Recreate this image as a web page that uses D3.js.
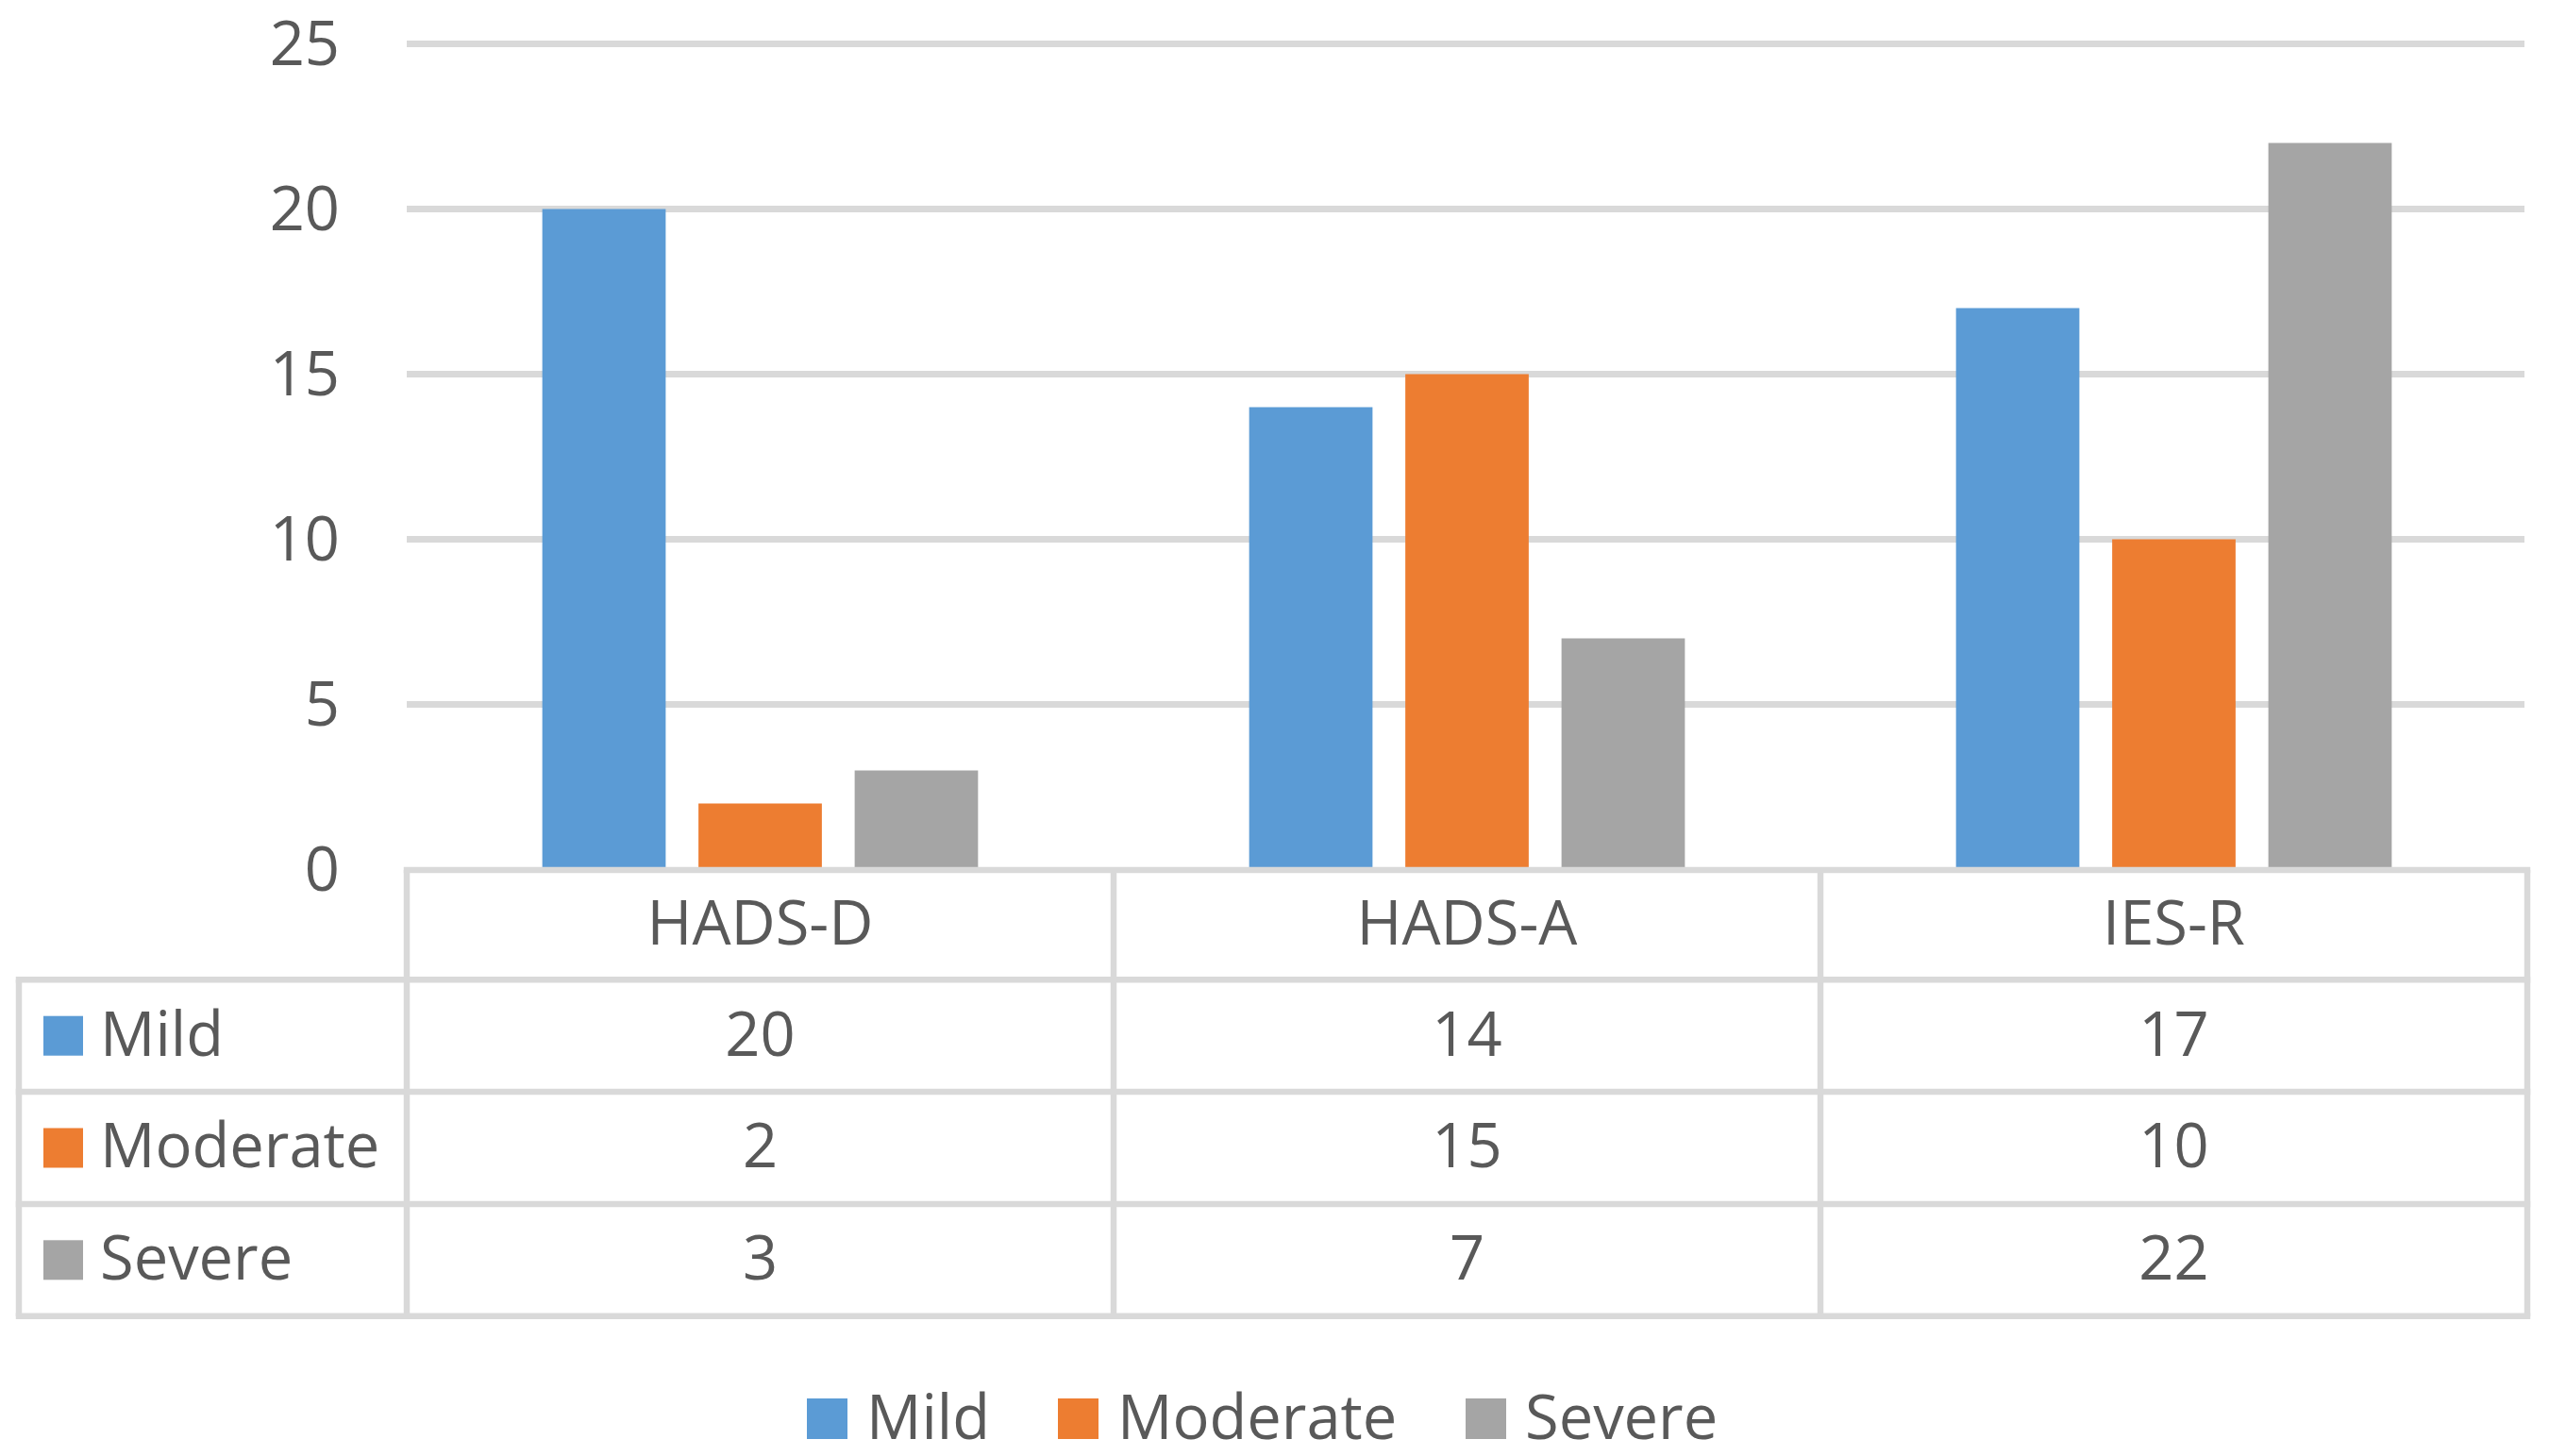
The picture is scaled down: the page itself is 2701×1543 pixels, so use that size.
<!DOCTYPE html>
<html>
<head>
<meta charset="utf-8">
<script src="https://cdn.jsdelivr.net/npm/d3@7"></script>
<style>
  body { margin: 0; background: #fff; }
  text { font-family: "Open Sans", "Noto Sans", sans-serif; fill: #595959; }
</style>
</head>
<body>
<div class="svg-frame"></div>
<script>
const categories = ["HADS-D", "HADS-A", "IES-R"]
const series = ["Mild", "Moderate", "Severe"]
const mildValues = [20, 14, 17]
const moderateValues = [2, 15, 10]
const severeValues = [3, 7, 22]
const yTicks = [0, 5, 10, 15, 20, 25]
const colors = ["#5B9BD5", "#ED7D31", "#A5A5A5"]

function drawViz() {
  const width = 2701, height = 1543
  const svg = d3.select(".svg-frame")
    .append("svg")
    .attr("width", width)
    .attr("height", height)

  const plot = { left: 431, right: 2678, top: 46.5, bottom: 921.5 }
  const table = { left: 20, rowH: 118.8, lineW: 6.5, fontSize: 65 }
  const gridColor = "#D9D9D9"

  const values = [mildValues, moderateValues, severeValues]
  const data = categories.flatMap((c, i) =>
    series.map((s, j) => ({ category: c, series: s, value: values[j][i], color: colors[j] })))

  const xScale = d3.scaleBand(categories, [plot.left, plot.right])
  const xInner = d3.scaleBand(series, [0, xScale.bandwidth()])
    .paddingInner(0.21)
    .paddingOuter(0.868)
  const yScale = d3.scaleLinear([0, 25], [plot.bottom, plot.top])

  //gridlines (except 0, which is the table's top border)
  svg.append("g")
    .selectAll("line")
    .data(yTicks.filter(d => d > 0))
    .join("line")
      .attr("x1", plot.left)
      .attr("x2", plot.right - 3)
      .attr("y1", d => yScale(d))
      .attr("y2", d => yScale(d))
      .attr("stroke", gridColor)
      .attr("stroke-width", 7)

  //y tick labels
  svg.append("g")
    .selectAll("text")
    .data(yTicks)
    .join("text")
      .attr("x", 360)
      .attr("y", d => yScale(d))
      .attr("dy", "0.34em")
      .attr("text-anchor", "end")
      .attr("font-size", table.fontSize)
      .text(d => d)

  //bars
  svg.append("g")
    .selectAll("rect")
    .data(data)
    .join("rect")
      .attr("x", d => xScale(d.category) + xInner(d.series))
      .attr("y", d => yScale(d.value))
      .attr("width", xInner.bandwidth())
      .attr("height", d => yScale(0) - yScale(d.value))
      .attr("fill", d => d.color)

  //data table
  const tableTop = yScale(0) + 0.5
  const rowY = i => tableTop + i * table.rowH - (i > 0 ? 2.5 : 0)   // i = 0 header top
  const tableBottom = rowY(series.length + 1)
  const g = svg.append("g")
    .attr("stroke", gridColor)
    .attr("stroke-width", table.lineW)

  // horizontal lines
  g.append("line")
    .attr("x1", plot.left - table.lineW / 2).attr("x2", plot.right + table.lineW / 2)
    .attr("y1", tableTop).attr("y2", tableTop)
  d3.range(1, series.length + 2).forEach(i => {
    g.append("line")
      .attr("x1", table.left - table.lineW / 2).attr("x2", plot.right + table.lineW / 2)
      .attr("y1", rowY(i)).attr("y2", rowY(i))
  })
  // vertical lines
  g.append("line")
    .attr("x1", table.left).attr("x2", table.left)
    .attr("y1", rowY(1)).attr("y2", tableBottom)
  const colEdges = categories.map(c => xScale(c)).concat([plot.right])
  g.selectAll("line.col")
    .data(colEdges)
    .join("line")
      .attr("class", "col")
      .attr("x1", d => d).attr("x2", d => d)
      .attr("y1", tableTop).attr("y2", tableBottom)

  // header texts
  svg.append("g")
    .selectAll("text")
    .data(categories)
    .join("text")
      .attr("x", d => xScale(d) + xScale.bandwidth() / 2)
      .attr("y", (rowY(0) + rowY(1)) / 2)
      .attr("dy", "0.32em")
      .attr("text-anchor", "middle")
      .attr("font-size", table.fontSize)
      .text(d => d)

  // rows
  series.forEach((s, j) => {
    const cy = (rowY(j + 1) + rowY(j + 2)) / 2
    svg.append("rect")
      .attr("x", 46).attr("y", cy - 21)
      .attr("width", 42).attr("height", 42)
      .attr("fill", colors[j])
    svg.append("text")
      .attr("x", 106).attr("y", cy)
      .attr("dy", "0.32em")
      .attr("font-size", table.fontSize)
      .text(s)
    svg.append("g")
      .selectAll("text")
      .data(categories.map((c, i) => ({ c, v: values[j][i] })))
      .join("text")
        .attr("x", d => xScale(d.c) + xScale.bandwidth() / 2)
        .attr("y", cy)
        .attr("dy", "0.32em")
        .attr("text-anchor", "middle")
        .attr("font-size", table.fontSize)
        .text(d => d.v)
  })

  //legend at bottom
  const legendX = [855, 1121, 1553]
  const legend = svg.append("g")
  series.forEach((s, j) => {
    legend.append("rect")
      .attr("x", legendX[j]).attr("y", 1482)
      .attr("width", 43).attr("height", 43)
      .attr("fill", colors[j])
    legend.append("text")
      .attr("x", legendX[j] + 63).attr("y", 1525)
      .attr("font-size", table.fontSize)
      .text(s)
  })
}

drawViz()
</script>
</body>
</html>
